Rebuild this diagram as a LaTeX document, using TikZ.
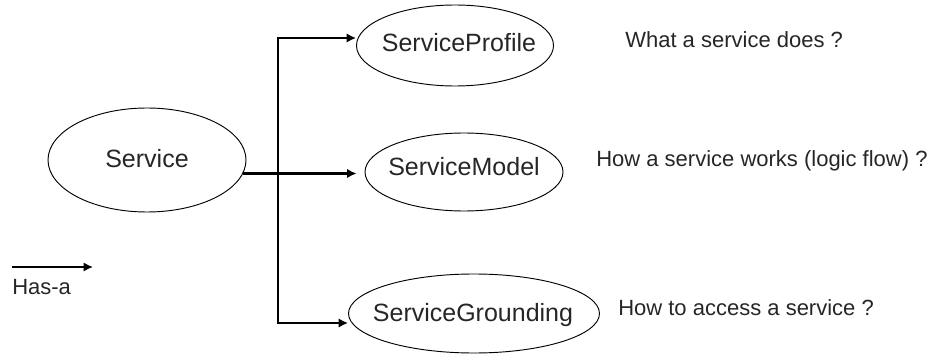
\documentclass[tikz,border=0pt]{standalone}
\usepackage{fontspec}
\setmainfont{Liberation Sans}
\usetikzlibrary{shapes.geometric,arrows.meta}

\tikzset{
  part/.style={draw=black, line width=0.7pt, ellipse, inner sep=0pt},
  partlabel/.style={inner sep=0pt, text height=13.4pt, text depth=0pt,
    text=black!85, font=\fontsize{18.75pt}{22pt}\selectfont},
  note/.style={inner sep=0pt, anchor=base west, text=black!85,
    font=\fontsize{16.5pt}{20pt}\selectfont},
  hasa/.style={draw=black, line width=1.8pt, line join=miter,
    -{Latex[length=7pt,width=7pt]}},
}

\begin{document}
\begin{tikzpicture}[x=0.75pt, y=-0.75pt]
  \useasboundingbox (0,0) rectangle (932,356);

  % the service and its three parts
  \node[part, minimum width=148.5pt, minimum height=78pt] (svc) at (147,160) {};
  \node[part, minimum width=147.75pt, minimum height=60.75pt] (prof) at (455,45.5) {};
  \node[part, minimum width=148.5pt, minimum height=58.5pt] (model) at (464,172) {};
  \node[part, minimum width=188.25pt, minimum height=59.25pt] (grd) at (474,313.5) {};

  \node[partlabel] (svcT) at (147,159) {Service};
  \node[partlabel] (profT) at (459,43) {ServiceProfile};
  \node[partlabel] (modelT) at (464,167) {ServiceModel};
  \node[partlabel] (grdT) at (473,313) {ServiceGrounding};

  % has-a connectors
  \coordinate (jm) at (278,173);
  \draw[hasa, shorten >=6pt] (svc.-8) -- (svc.-8 -| model.west);
  \draw[hasa] (jm) |- (prof.west |- 0,38);
  \draw[hasa] (jm) |- (grd.west |- 0,323);

  % questions answered by each part
  \node[note] (q1) at (625,48) {What a service does ?};
  \node[note] (q2) at (596,167) {How a service works (logic flow) ?};
  \node[note] (q3) at (618,315) {How to access a service ?};

  % legend
  \coordinate (lg0) at (12,267);
  \coordinate (lg1) at (93,267);
  \draw[hasa] (lg0) -- (lg1);
  \node[note] (lgT) at (12,294) {Has-a};
\end{tikzpicture}
\end{document}
